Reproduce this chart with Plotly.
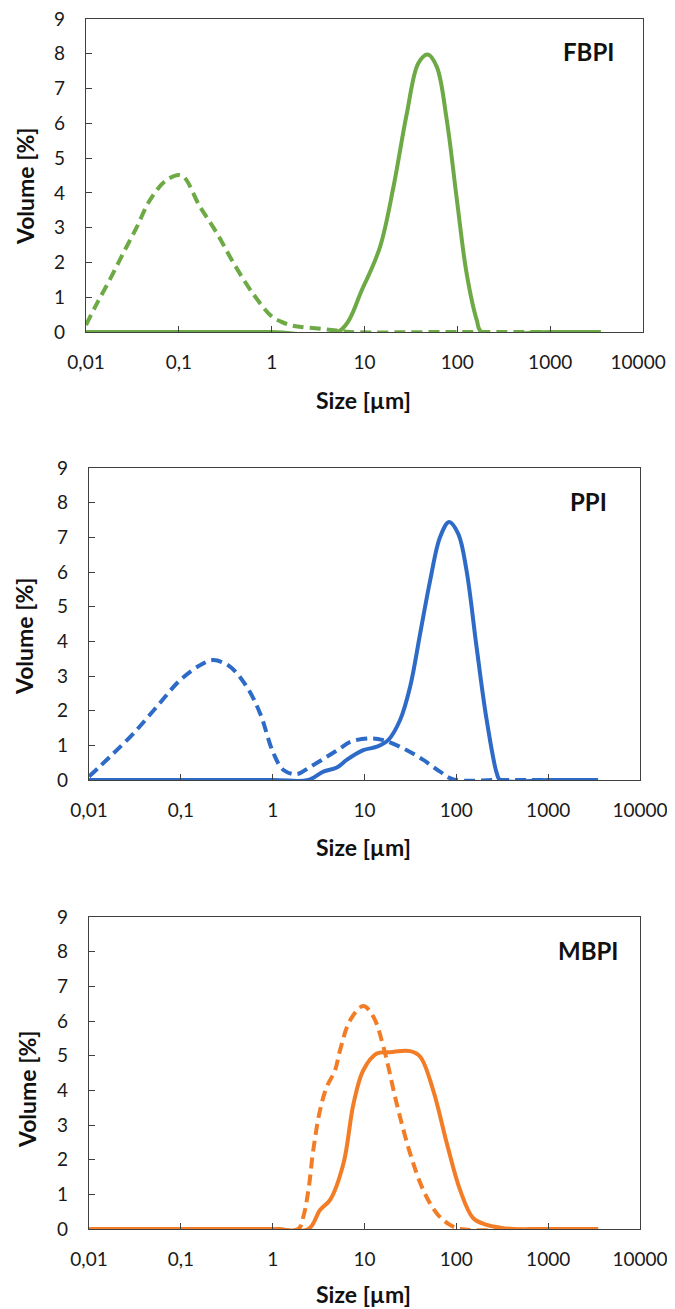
import plotly.graph_objects as go

# particle size [um]
fbpi_dash_x = [0.01, 0.013, 0.018, 0.025, 0.035, 0.049, 0.074, 0.107, 0.169, 0.256, 0.385, 0.63, 1.0,
               1.26, 1.58, 2.0, 3.16, 5.0, 7.0, 100, 3500]
fbpi_dash_y = [0.2, 0.8, 1.5, 2.25, 3.0, 3.8, 4.37, 4.5, 3.6, 2.85, 2.0, 1.1, 0.45,
               0.3, 0.2, 0.15, 0.1, 0.04, 0.0, 0.0, 0.0]

fbpi_solid_x = [0.01, 1, 5.2, 9.7, 14.7, 20.5, 28.6, 38, 48, 60, 77, 99, 126, 162, 182, 1000, 3500]
fbpi_solid_y = [0.0, 0.0, 0.0, 1.3, 2.45, 4.17, 6.29, 7.73, 7.98, 7.63, 6.09, 3.79, 1.68, 0.34, 0.0, 0.0, 0.0]

ppi_dash_x = [0.01, 0.0169, 0.0304, 0.0546, 0.098, 0.162, 0.226, 0.343, 0.522, 0.73, 1.02, 1.31, 1.83,
              2.56, 3.89, 5.4, 7.0, 11.5, 16, 26.5, 43.7, 66.5, 93, 300, 3500]
ppi_dash_y = [0.1, 0.67, 1.34, 2.11, 2.88, 3.31, 3.46, 3.27, 2.69, 1.92, 0.77, 0.29, 0.17,
              0.38, 0.67, 0.91, 1.1, 1.2, 1.15, 0.91, 0.58, 0.24, 0.02, 0.0, 0.0]

ppi_solid_x = [0.01, 1, 2.43, 3.56, 5.0, 6.4, 9.7, 13.6, 18.1, 24.4, 31.4, 40.4, 51.9, 66.6, 83.4,
               105, 129, 166, 214, 276, 300, 1000, 3500]
ppi_solid_y = [0.0, 0.0, 0.0, 0.24, 0.36, 0.58, 0.86, 0.96, 1.15, 1.73, 2.69, 4.23, 5.76, 7.01, 7.44,
               7.1, 6.05, 3.84, 1.73, 0.19, 0.0, 0.0, 0.0]

mbpi_dash_x = [0.01, 1, 1.9, 2.16, 2.45, 2.77, 3.28, 3.88, 4.78, 5.42, 6.97, 9.7, 12.5, 16.1, 22.4,
               31.4, 43.7, 61.3, 85.2, 110, 1000, 3500]
mbpi_dash_y = [0.0, 0.0, 0.0, 0.36, 1.12, 2.28, 3.43, 4.1, 4.58, 5.16, 6.02, 6.43, 6.12, 5.25, 3.62,
               2.18, 1.12, 0.45, 0.12, 0.0, 0.0, 0.0]

mbpi_solid_x = [0.01, 1, 2.45, 3.28, 4.22, 5.9, 7.6, 9.7, 13.6, 19, 31.4, 40.4, 56, 78.8, 110,
                153, 214, 300, 417, 1000, 3500]
mbpi_solid_y = [0.0, 0.0, 0.0, 0.55, 0.84, 1.89, 3.62, 4.58, 5.06, 5.1, 5.13, 4.97, 4.0, 2.47, 1.12,
                0.31, 0.12, 0.04, 0.0, 0.0, 0.0]

tick_vals = [0.01, 0.1, 1, 10, 100, 1000, 10000]
tick_text = ["0,01", "0,1", "1", "10", "100", "1000", "10000"]

panels = [
    ("FBPI", "#6DAA45", fbpi_solid_x, fbpi_solid_y, fbpi_dash_x, fbpi_dash_y),
    ("PPI", "#2D6BC7", ppi_solid_x, ppi_solid_y, ppi_dash_x, ppi_dash_y),
    ("MBPI", "#F27D26", mbpi_solid_x, mbpi_solid_y, mbpi_dash_x, mbpi_dash_y),
]

# page body has an 8px margin, so the figure is shrunk and every position shifted by it
OFF = 8
W, H = 675 - OFF, 1309 - OFF
# plot boxes in page pixels: left, right, top, bottom
boxes = [(86, 643, 19, 332), (89, 640, 468, 780), (89, 640, 917, 1229)]
ytitle_pos = [(25, 187), (24, 637), (27, 1090)]
xtitle_gap = [68, 67, 65]


def px(x):
    return (x - OFF) / W


def py(y):
    return 1 - (y - OFF) / H


FONT = "Lato"
fig = go.Figure()
annotations = []

for i, (name, color, sx, sy, dx, dy) in enumerate(panels):
    n = "" if i == 0 else str(i + 1)
    left, right, top, bottom = boxes[i]
    labels = list(tick_text)
    if i == 0:
        # the top panel is a bit wider; nudge its last label so it stays on the page
        labels[-1] = labels[-1] + "\u00a0\u00a0"
    fig.add_trace(go.Scatter(x=dx, y=dy, mode="lines", xaxis="x" + n, yaxis="y" + n,
                             line=dict(color=color, width=4, dash="11px,6px", shape="spline", smoothing=1.0),
                             showlegend=False))
    fig.add_trace(go.Scatter(x=sx, y=sy, mode="lines", xaxis="x" + n, yaxis="y" + n,
                             line=dict(color=color, width=4, shape="spline", smoothing=1.0),
                             showlegend=False))
    fig.layout["xaxis" + n] = dict(
        type="log", range=[-2, 4], domain=[px(left), px(right)], anchor="y" + n, automargin=False,
        tickvals=tick_vals, ticktext=labels, ticks="inside", ticklen=6, tickcolor="#404040",
        showline=True, linecolor="#404040", linewidth=1.3, mirror=True, showgrid=False, zeroline=False,
        tickfont=dict(family=FONT, size=19, color="#1a1a1a"), ticklabelstandoff=13,
        ticklabeloverflow="allow",
    )
    fig.layout["yaxis" + n] = dict(
        range=[0, 9], dtick=1, domain=[py(bottom), py(top)], anchor="x" + n, automargin=False,
        ticks="inside", ticklen=6, tickcolor="#404040",
        showline=True, linecolor="#404040", linewidth=1.3, mirror=True, showgrid=False, zeroline=False,
        tickfont=dict(family=FONT, size=19, color="#1a1a1a"), ticklabelstandoff=16,
        ticklabeloverflow="allow",
    )
    annotations.append(dict(text="<b>" + name + "</b>", x=px(588), y=py(top + 33),
                            xanchor="center", yanchor="middle",
                            xref="paper", yref="paper", showarrow=False,
                            font=dict(family=FONT, size=24, color="#111111")))
    annotations.append(dict(text="<b>Size [µm]</b>", x=px(363), y=py(bottom + xtitle_gap[i]),
                            xanchor="center", yanchor="middle",
                            xref="paper", yref="paper", showarrow=False,
                            font=dict(family=FONT, size=23, color="#111111")))
    tx, ty = ytitle_pos[i]
    annotations.append(dict(text="<b>Volume [%]</b>", x=px(tx), y=py(ty), textangle=-90,
                            xanchor="center", yanchor="middle",
                            xref="paper", yref="paper", showarrow=False,
                            font=dict(family=FONT, size=23, color="#111111")))

fig.update_layout(
    width=W, height=H, margin=dict(l=0, r=0, t=0, b=0),
    paper_bgcolor="white", plot_bgcolor="white",
    annotations=annotations,
)

fig.write_html("out.html")
